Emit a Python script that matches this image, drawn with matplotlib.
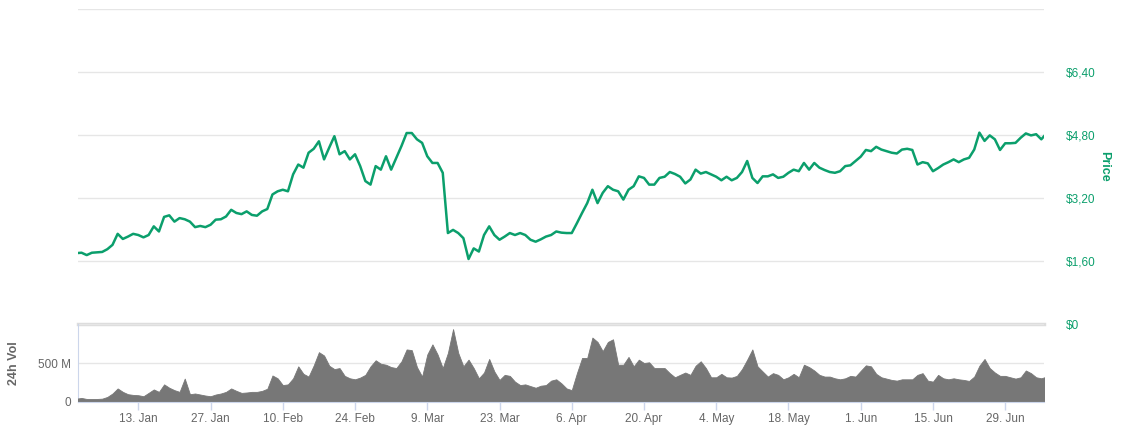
import matplotlib
matplotlib.use('Agg')
import matplotlib.pyplot as plt
import pandas as pd

# daily closing price (USD), 1 Jan 2020 onwards
price = [
    1.80, 1.81, 1.75, 1.81, 1.82, 1.83, 1.90, 2.01, 2.29, 2.16,
    2.22, 2.29, 2.26, 2.20, 2.26, 2.48, 2.35, 2.72, 2.76, 2.60,
    2.69, 2.66, 2.60, 2.46, 2.49, 2.46, 2.52, 2.65, 2.66, 2.73,
    2.90, 2.82, 2.79, 2.86, 2.77, 2.75, 2.86, 2.92, 3.29, 3.37,
    3.41, 3.37, 3.80, 4.05, 3.97, 4.35, 4.45, 4.64, 4.18, 4.48,
    4.77, 4.31, 4.39, 4.18, 4.31, 4.01, 3.63, 3.54, 4.01, 3.92,
    4.26, 3.92, 4.22, 4.52, 4.85, 4.85, 4.69, 4.60, 4.26, 4.09,
    4.09, 3.84, 2.31, 2.39, 2.31, 2.18, 1.65, 1.92, 1.84, 2.26,
    2.48, 2.26, 2.14, 2.22, 2.31, 2.26, 2.31, 2.26, 2.14, 2.09,
    2.15, 2.22, 2.26, 2.35, 2.32, 2.31, 2.31, 2.56, 2.82, 3.07,
    3.41, 3.07, 3.33, 3.50, 3.41, 3.37, 3.16, 3.41, 3.50, 3.75,
    3.71, 3.54, 3.54, 3.71, 3.74, 3.86, 3.81, 3.74, 3.57, 3.67,
    3.92, 3.82, 3.86, 3.80, 3.74, 3.65, 3.74, 3.65, 3.71, 3.86,
    4.14, 3.71, 3.58, 3.75, 3.75, 3.80, 3.71, 3.74, 3.84, 3.92,
    3.88, 4.09, 3.92, 4.09, 3.97, 3.91, 3.86, 3.84, 3.88, 4.01,
    4.03, 4.14, 4.25, 4.42, 4.39, 4.50, 4.43, 4.39, 4.35, 4.33,
    4.43, 4.45, 4.42, 4.05, 4.11, 4.08, 3.88, 3.96, 4.05, 4.11,
    4.18, 4.11, 4.18, 4.22, 4.43, 4.86, 4.65, 4.79, 4.69, 4.42,
    4.59, 4.59, 4.60, 4.73, 4.84, 4.79, 4.82, 4.69, 4.84,
]

# 24h volume, millions USD
volume = [
    43, 52, 39, 39, 39, 43, 65, 109, 174, 130,
    100, 91, 87, 74, 117, 161, 130, 226, 183, 152,
    130, 300, 100, 109, 96, 83, 74, 96, 109, 130,
    174, 143, 117, 122, 130, 130, 143, 170, 340, 304,
    217, 226, 304, 457, 361, 326, 470, 639, 596, 465,
    422, 435, 335, 304, 291, 313, 348, 457, 535, 491,
    478, 448, 435, 522, 674, 665, 448, 326, 609, 739,
    609, 435, 630, 935, 630, 457, 543, 435, 304, 378,
    552, 391, 283, 348, 335, 261, 217, 226, 204, 183,
    209, 217, 274, 291, 239, 174, 152, 370, 565, 565,
    826, 770, 652, 770, 804, 478, 478, 578, 457, 543,
    500, 509, 435, 435, 435, 370, 317, 348, 378, 348,
    465, 522, 435, 317, 317, 361, 317, 313, 335, 422,
    543, 674, 457, 391, 326, 370, 348, 291, 317, 361,
    317, 478, 448, 404, 348, 326, 326, 304, 291, 304,
    335, 326, 400, 470, 457, 361, 317, 300, 283, 274,
    291, 291, 291, 348, 370, 274, 261, 348, 304, 291,
    304, 291, 283, 270, 326, 465, 552, 435, 378, 335,
    335, 317, 300, 317, 404, 370, 317, 304, 326,
]

dates = pd.date_range('2020-01-01', periods=len(price), freq='D')

xtick_dates = pd.to_datetime([
    '2020-01-13', '2020-01-27', '2020-02-10', '2020-02-24', '2020-03-09',
    '2020-03-23', '2020-04-06', '2020-04-20', '2020-05-04', '2020-05-18',
    '2020-06-01', '2020-06-15', '2020-06-29'])
xtick_labels = ['13. Jan', '27. Jan', '10. Feb', '24. Feb', '9. Mar', '23. Mar',
                '6. Apr', '20. Apr', '4. May', '18. May', '1. Jun', '15. Jun',
                '29. Jun']
price_ticks = [0, 1.6, 3.2, 4.8, 6.4, 8.0]
price_labels = ['$0', '$1,60', '$3,20', '$4,80', '$6,40', '']
vol_ticks = [0, 500, 1000]
vol_labels = ['0', '500 M', '']

C_GREEN = '#0b9f6c'
C_GRAY = '#666666'
C_GRID = '#e6e6e6'
C_AXIS = '#ccd6eb'
C_VOL = '#777777'

plt.rcParams['font.family'] = ['Liberation Sans', 'DejaVu Sans']

fig = plt.figure(figsize=(11.24, 4.42), dpi=100)
fig.patch.set_facecolor('white')

x0 = pd.Timestamp('2020-01-01 07:30')
x1 = pd.Timestamp('2020-07-06 12:30')

# ── Price panel ──────────────────────────────────────────────────────────────
ax = fig.add_axes([78 / 1124, 1 - 324 / 442, 966 / 1124, 315 / 442])
ax.plot(dates, price, color=C_GREEN, lw=1.8, zorder=3)
ax.set_xlim(x0, x1)
ax.set_ylim(0, 8.0)
ax.set_yticks(price_ticks)
ax.set_yticklabels(price_labels)
ax.yaxis.tick_right()
ax.tick_params(axis='y', length=0, pad=16, labelsize=8.5, labelcolor=C_GREEN)
ax.set_xticks([])
ax.grid(axis='y', color=C_GRID, lw=1)
for s in ax.spines.values():
    s.set_visible(False)
ax.text(1.062, 0.5, 'Price', transform=ax.transAxes, rotation=-90,
        ha='center', va='center', fontsize=9, fontweight='bold', color=C_GREEN)

# ── Volume panel ─────────────────────────────────────────────────────────────
av = fig.add_axes([78 / 1124, 1 - 402 / 442, 966 / 1124, 78 / 442])
av.fill_between(dates, volume, 0, color=C_VOL, lw=0.6, edgecolor=C_VOL, zorder=3)
av.set_xlim(x0, x1)
av.set_ylim(0, 1000)
av.set_yticks(vol_ticks)
av.set_yticklabels(vol_labels)
av.tick_params(axis='y', length=0, pad=5, labelsize=8.5, labelcolor=C_GRAY)
av.set_xticks(xtick_dates)
av.set_xticklabels(xtick_labels)
av.tick_params(axis='x', length=6, width=1, color=C_AXIS, pad=2,
               labelsize=8.5, labelcolor=C_GRAY)
av.grid(axis='y', color=C_GRID, lw=1, zorder=0)
av.axhline(1000, color='#dddddd', lw=2.5, zorder=1, clip_on=False)
for side in ['top', 'right']:
    av.spines[side].set_visible(False)
av.spines['bottom'].set_color(C_AXIS)
av.spines['left'].set_color(C_AXIS)
av.spines['bottom'].set_zorder(4)
av.text(-0.066, 0.5, '24h Vol', transform=av.transAxes, rotation=90,
        ha='center', va='center', fontsize=9, fontweight='bold', color=C_GRAY)

fig.savefig('out.png', dpi=100, facecolor='white')
plt.close(fig)
